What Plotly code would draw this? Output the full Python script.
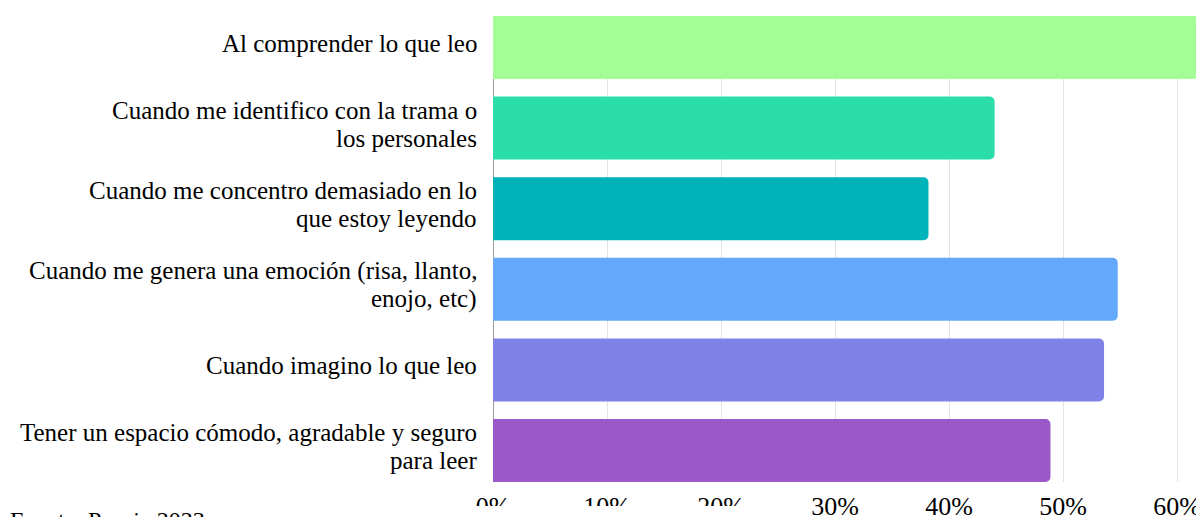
import plotly.graph_objects as go

categories = [
    "Al comprender lo que leo",
    "Cuando me identifico con la trama o<br>los personales",
    "Cuando me concentro demasiado en lo<br>que estoy leyendo",
    "Cuando me genera una emoción (risa, llanto,<br>enojo, etc)",
    "Cuando imagino lo que leo",
    "Tener un espacio cómodo, agradable y seguro<br>para leer",
]
values = [61.9, 44.0, 38.2, 54.8, 53.6, 48.9]
colors = ["#A3FF95", "#2BDEA9", "#00B3B8", "#63A8FA", "#7F82E6", "#9A58C9"]
tick_vals = [0, 10, 20, 30, 40, 50, 60]
tick_text = ["0%", "10%", "20%", "30%", "40%", "50%", "60%"]
source = "Fuente: Propia 2023"

# page has an 8px body margin; figure sized to fill the rest of the window
W, H = 1196, 509
ml, mr, mt, mb = 485, 4, 8, 35
pw, ph = W - ml - mr, H - mt - mb
bottom = mt + ph

fig = go.Figure(go.Bar(
    x=values, y=categories, orientation="h",
    marker=dict(color=colors, line=dict(width=0)),
    showlegend=False, hoverinfo="skip",
))

font_family = "Liberation Serif, Times New Roman, serif"
LABEL_SIZE = 25
LINE_GAP = 28

# category labels: one annotation per text line (tighter line spacing than tick labels)
annotations = []
for cat in categories:
    lines = cat.split("<br>")
    n = len(lines)
    for i, line in enumerate(lines):
        annotations.append(dict(
            text=line, xref="paper", yref="y", x=0, y=cat,
            xanchor="right", yanchor="middle", xshift=-14,
            yshift=((n - 1) / 2 - i) * LINE_GAP + 4,
            showarrow=False, align="right",
            font=dict(family=font_family, size=LABEL_SIZE, color="#000000"),
        ))

annotations.append(dict(
    text=source, xref="paper", yref="paper",
    x=-ml / pw, y=-(497 - bottom) / ph,
    xanchor="left", yanchor="top", showarrow=False,
    font=dict(family=font_family, size=24, color="#000000"),
))

fig.update_layout(
    width=W, height=H,
    margin=dict(l=ml, r=mr, t=mt, b=mb, pad=0, autoexpand=False),
    paper_bgcolor="white", plot_bgcolor="white",
    bargap=0.22, barcornerradius=5,
    font=dict(family=font_family, size=24, color="#000000"),
    xaxis=dict(
        range=[0, pw / 11.4], tickvals=tick_vals, ticktext=tick_text,
        showgrid=True, gridcolor="#E3E3E3", gridwidth=1,
        zeroline=True, zerolinecolor="#9E9E9E", zerolinewidth=1,
        showline=False, ticks="", ticklabelstandoff=6, automargin=False,
        tickfont=dict(family=font_family, size=26, color="#000000"),
        fixedrange=True,
    ),
    yaxis=dict(
        type="category", categoryorder="array", categoryarray=categories,
        range=[5.39, -0.39], showgrid=False, zeroline=False, showline=False,
        showticklabels=False, ticks="", automargin=False,
        fixedrange=True,
    ),
    shapes=[dict(
        type="rect", xref="paper", yref="paper", layer="above",
        x0=(462 - ml) / pw, x1=(772 - ml) / pw,
        y0=-(498 - bottom) / ph, y1=-(515 - bottom) / ph,
        fillcolor="white", line=dict(width=0),
    )],
    annotations=annotations,
)

fig.write_html("out.html")
